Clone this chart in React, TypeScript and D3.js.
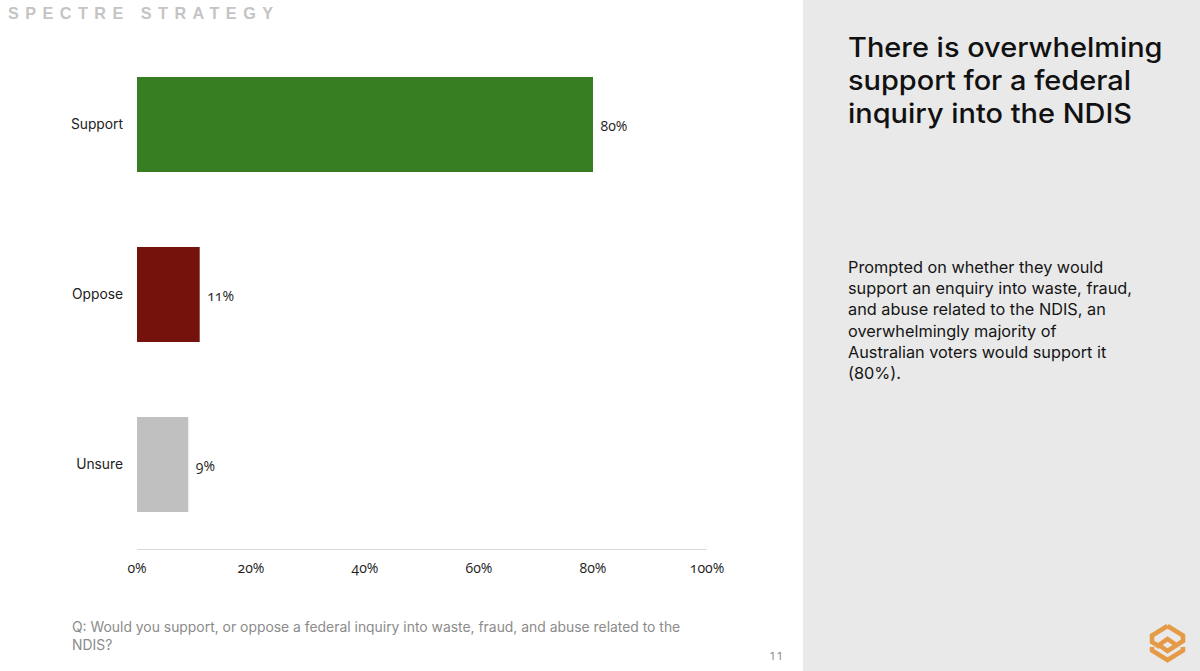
import * as d3 from "d3";

const categories = ["Support", "Oppose", "Unsure"];
const values = [80, 11, 9];
const barColors = ["#377e22", "#75120b", "#c0c0c0"];
const xTickValues = [0, 20, 40, 60, 80, 100];

const brand = "SPECTRE STRATEGY";
const titleLines = ["There is overwhelming", "support for a federal", "inquiry into the NDIS"];
const bodyLines = [
	"Prompted on whether they would",
	"support an enquiry into waste, fraud,",
	"and abuse related to the NDIS, an",
	"overwhelmingly majority of",
	"Australian voters would support it",
	"(80%).",
];
const questionLines = [
	"Q: Would you support, or oppose a federal inquiry into waste, fraud, and abuse related to the",
	"NDIS?",
];
const pageNumber = "11";

const width = 1200;
const height = 671;
const font = "Inter, 'Noto Sans', sans-serif";
// the original face has old-style figures
const numberStyle = { fontFamily: "'Open Sans', sans-serif", fontFeatureSettings: "'onum'" };

export default function App() {
	const xScale = d3.scaleLinear().domain([0, 100]).range([137, 707]);
	const yScale = d3
		.scaleBand()
		.domain(categories)
		.range([39.5, 549.5])
		.paddingInner(75 / 170)
		.paddingOuter(37.5 / 170);

	const bandHeight = yScale.bandwidth();

	return (
		<svg
			width={width}
			height={height}
			viewBox={`0 0 ${width} ${height}`}
			style={{ position: "absolute", left: 0, top: 0, display: "block", background: "#fff" }}
			fontFamily={font}
		>
			<rect x={803} y={0} width={397} height={671} fill="#e9e9e9" />

			<text
				x={8}
				y={19}
				fontFamily="'Liberation Sans', Arial, sans-serif"
				fontSize={16.2}
				fontWeight={700}
				fill="#c4c4c4"
				textLength={265}
				lengthAdjust="spacing"
			>
				{brand}
			</text>

			{/* bars */}
			{categories.map((c, i) => (
				<g key={c}>
					<rect
						x={xScale(0)}
						y={yScale(c)}
						width={xScale(values[i]) - xScale(0)}
						height={bandHeight}
						fill={barColors[i]}
					/>
					<text
						x={xScale(0) - 14}
						y={(yScale(c) as number) + bandHeight / 2 + 1}
						textAnchor="end"
						dominantBaseline="middle"
						fontSize={13.8}
						fill="#222"
					>
						{c}
					</text>
					<text
						x={xScale(values[i]) + 7.5}
						y={(yScale(c) as number) + bandHeight / 2 + 2.5}
						dominantBaseline="middle"
						fontSize={14}
						fill="#222"
						style={numberStyle}
					>
						{values[i]}%
					</text>
				</g>
			))}

			{/* x axis */}
			<line x1={xScale(0)} x2={xScale(100)} y1={549.5} y2={549.5} stroke="#d9d9d9" strokeWidth={1.2} />
			{xTickValues.map((t) => (
				<text key={t} x={xScale(t)} y={573} textAnchor="middle" fontSize={14} fill="#222" style={numberStyle}>
					{t}%
				</text>
			))}

			{/* question */}
			{questionLines.map((l, i) => (
				<text key={l} x={72} y={632 + i * 18} fontSize={13.9} fill="#8b8b8b">
					{l}
				</text>
			))}

			<text x={770} y={660} fontSize={11} fill="#8b8b8b" letterSpacing={2.8}>
				{pageNumber}
			</text>

			{/* side panel */}
			<g transform="translate(848,0) scale(1.072,1)">
				{titleLines.map((l, i) => (
					<text key={l} x={0} y={57 + i * 33} fontSize={27} fontWeight={500} fill="#111">
						{l}
					</text>
				))}
			</g>
			{bodyLines.map((l, i) => (
				<text key={l} x={848} y={273 + i * 21.2} fontSize={16.3} fill="#151515">
					{l}
				</text>
			))}

			{/* logo */}
			<g fill="none" stroke="#e59a45" strokeWidth={4.5} strokeLinejoin="miter">
				<path d="M1167.5 626 L1183 635.5 L1183 641 L1167.5 651 L1159 645 L1167.5 639 L1175 644" />
				<path d="M1167.5 626 L1152 635.5 L1152 642 L1160 647" />
				<path d="M1152 647 L1152 650.5 L1167.5 660 L1183 650.5 L1183 647" />
			</g>
		</svg>
	);
}
